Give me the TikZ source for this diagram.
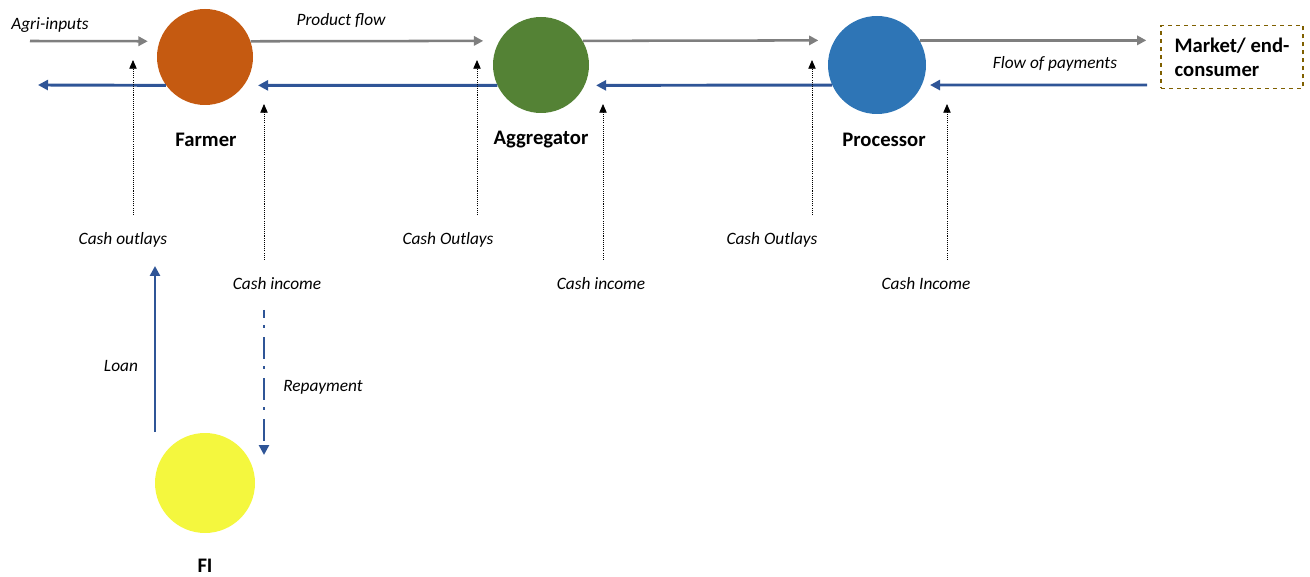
\documentclass[tikz,border=0pt]{standalone}
\usepackage{fontspec}
\setmainfont{Carlito}
\usetikzlibrary{arrows.meta,positioning}
\definecolor{cFarm}{HTML}{C55A11}
\definecolor{cAggr}{HTML}{548235}
\definecolor{cProc}{HTML}{2E75B6}
\definecolor{cFI}{HTML}{F4F73E}
\definecolor{cPay}{HTML}{2F5597}
\definecolor{cGoods}{HTML}{7F7F7F}
\definecolor{cMkt}{HTML}{7F6000}
\tikzset{
  actor/.style={circle, fill=#1, draw=none, minimum size=72pt, inner sep=0pt},
  actorname/.style={font=\fontsize{15.5}{18}\selectfont\bfseries},
  lbl/.style={font=\fontsize{13}{16}\selectfont\itshape},
  goods/.style={-{Triangle[length=7pt,width=7pt]}, line width=1.9pt, draw=cGoods},
  pay/.style={-{Triangle[length=7.5pt,width=7.5pt]}, line width=2.2pt, draw=cPay},
  repay/.style={pay, dash pattern=on 16.5pt off 5.25pt on 2.25pt off 6.75pt, dash phase=10.5pt},
  cash/.style={-{Triangle[length=6.5pt,width=5.5pt]}, line width=0.6pt,
               dash pattern=on 0.8pt off 0.8pt, draw=black},
  market/.style={draw=cMkt, dashed, line width=1pt, align=left,
                 minimum width=106.5pt, minimum height=47pt, inner sep=0pt,
                 font=\fontsize{15.5}{18}\selectfont\bfseries},
}
\begin{document}
\begin{tikzpicture}[x=0.75pt, y=-0.75pt]
  \useasboundingbox (0,0) rectangle (1310,577);

  % actors
  \node[actor=cFarm] (farm) at (205,57) {};
  \node[actor=cAggr] (aggr) at (541,65) {};
  \node[actor=cProc, minimum size=73.5pt] (proc) at (877,65) {};
  \node[actor=cFI, minimum size=75pt] (fi) at (205,483) {};
  \node[market] (mkt) at (1232,57) {Market/ end-\\consumer};

  \node[actorname] (farmN) at (206,140) {Farmer};
  \node[actorname] (aggrN) at (541,140) {Aggregator};
  \node[actorname] (procN) at (884,140) {Processor};
  \node[actorname, inner sep=1pt] (fiN) at (205,566) {FI};

  % free ends
  \coordinate (inputs) at (30,41);
  \coordinate (payout) at (38,85);
  \coordinate (payin) at (1147,85);
  \coordinate (oF0) at (133,215); \coordinate (oF1) at (133,60);
  \coordinate (iF0) at (264,260); \coordinate (iF1) at (264,104);
  \coordinate (oA0) at (477,215); \coordinate (oA1) at (477,60);
  \coordinate (iA0) at (603,260); \coordinate (iA1) at (603,104);
  \coordinate (oP0) at (812,215); \coordinate (oP1) at (812,60);
  \coordinate (iP0) at (947,260); \coordinate (iP1) at (947,104);
  \coordinate (loan0) at (155,432); \coordinate (loan1) at (155,266);
  \coordinate (rep0) at (264,310); \coordinate (rep1) at (264,455);

  % product flow
  \draw[goods, shorten >=8.7pt] (inputs) -- (farm.161);
  \draw[goods, shorten >=12pt] (farm.19) -- (aggr.150);
  \draw[goods, shorten >=12pt] (aggr.30) -- (proc.150);
  \draw[goods, shorten >=10.5pt] (proc.30) -- (proc.30 -| mkt.west);

  % payments
  \draw[pay, shorten >=6pt] (payin) -- (proc.-24);
  \draw[pay, shorten >=8.5pt] (proc.204) -- (aggr.-25);
  \draw[pay, shorten >=10.5pt] (aggr.205) -- (farm.-36);
  \draw[pay] (farm.216) -- (payout);

  % cash movements
  \foreach \c in {oF,iF,oA,iA,oP,iP}
    \draw[cash] (\c0) -- (\c1);
  \draw[pay] (loan0) -- (loan1);
  \draw[repay] (rep0) -- (rep1);

  % labels
  \node[lbl] (lInputs) at (50,25) {Agri-inputs};
  \node[lbl] (lProd) at (341,21) {Product flow};
  \node[lbl] (lPay) at (1055,64) {Flow of payments};
  \node[lbl] (lOF) at (123,240) {Cash outlays};
  \node[lbl] (lIF) at (277,284) {Cash income};
  \node[lbl] (lOA) at (448,240) {Cash Outlays};
  \node[lbl] (lIA) at (601,284) {Cash income};
  \node[lbl] (lOP) at (772,240) {Cash Outlays};
  \node[lbl] (lIP) at (926,284) {Cash Income};
  \node[lbl] (lLoan) at (121,366) {Loan};
  \node[lbl] (lRep) at (323,387) {Repayment};
\end{tikzpicture}
\end{document}
